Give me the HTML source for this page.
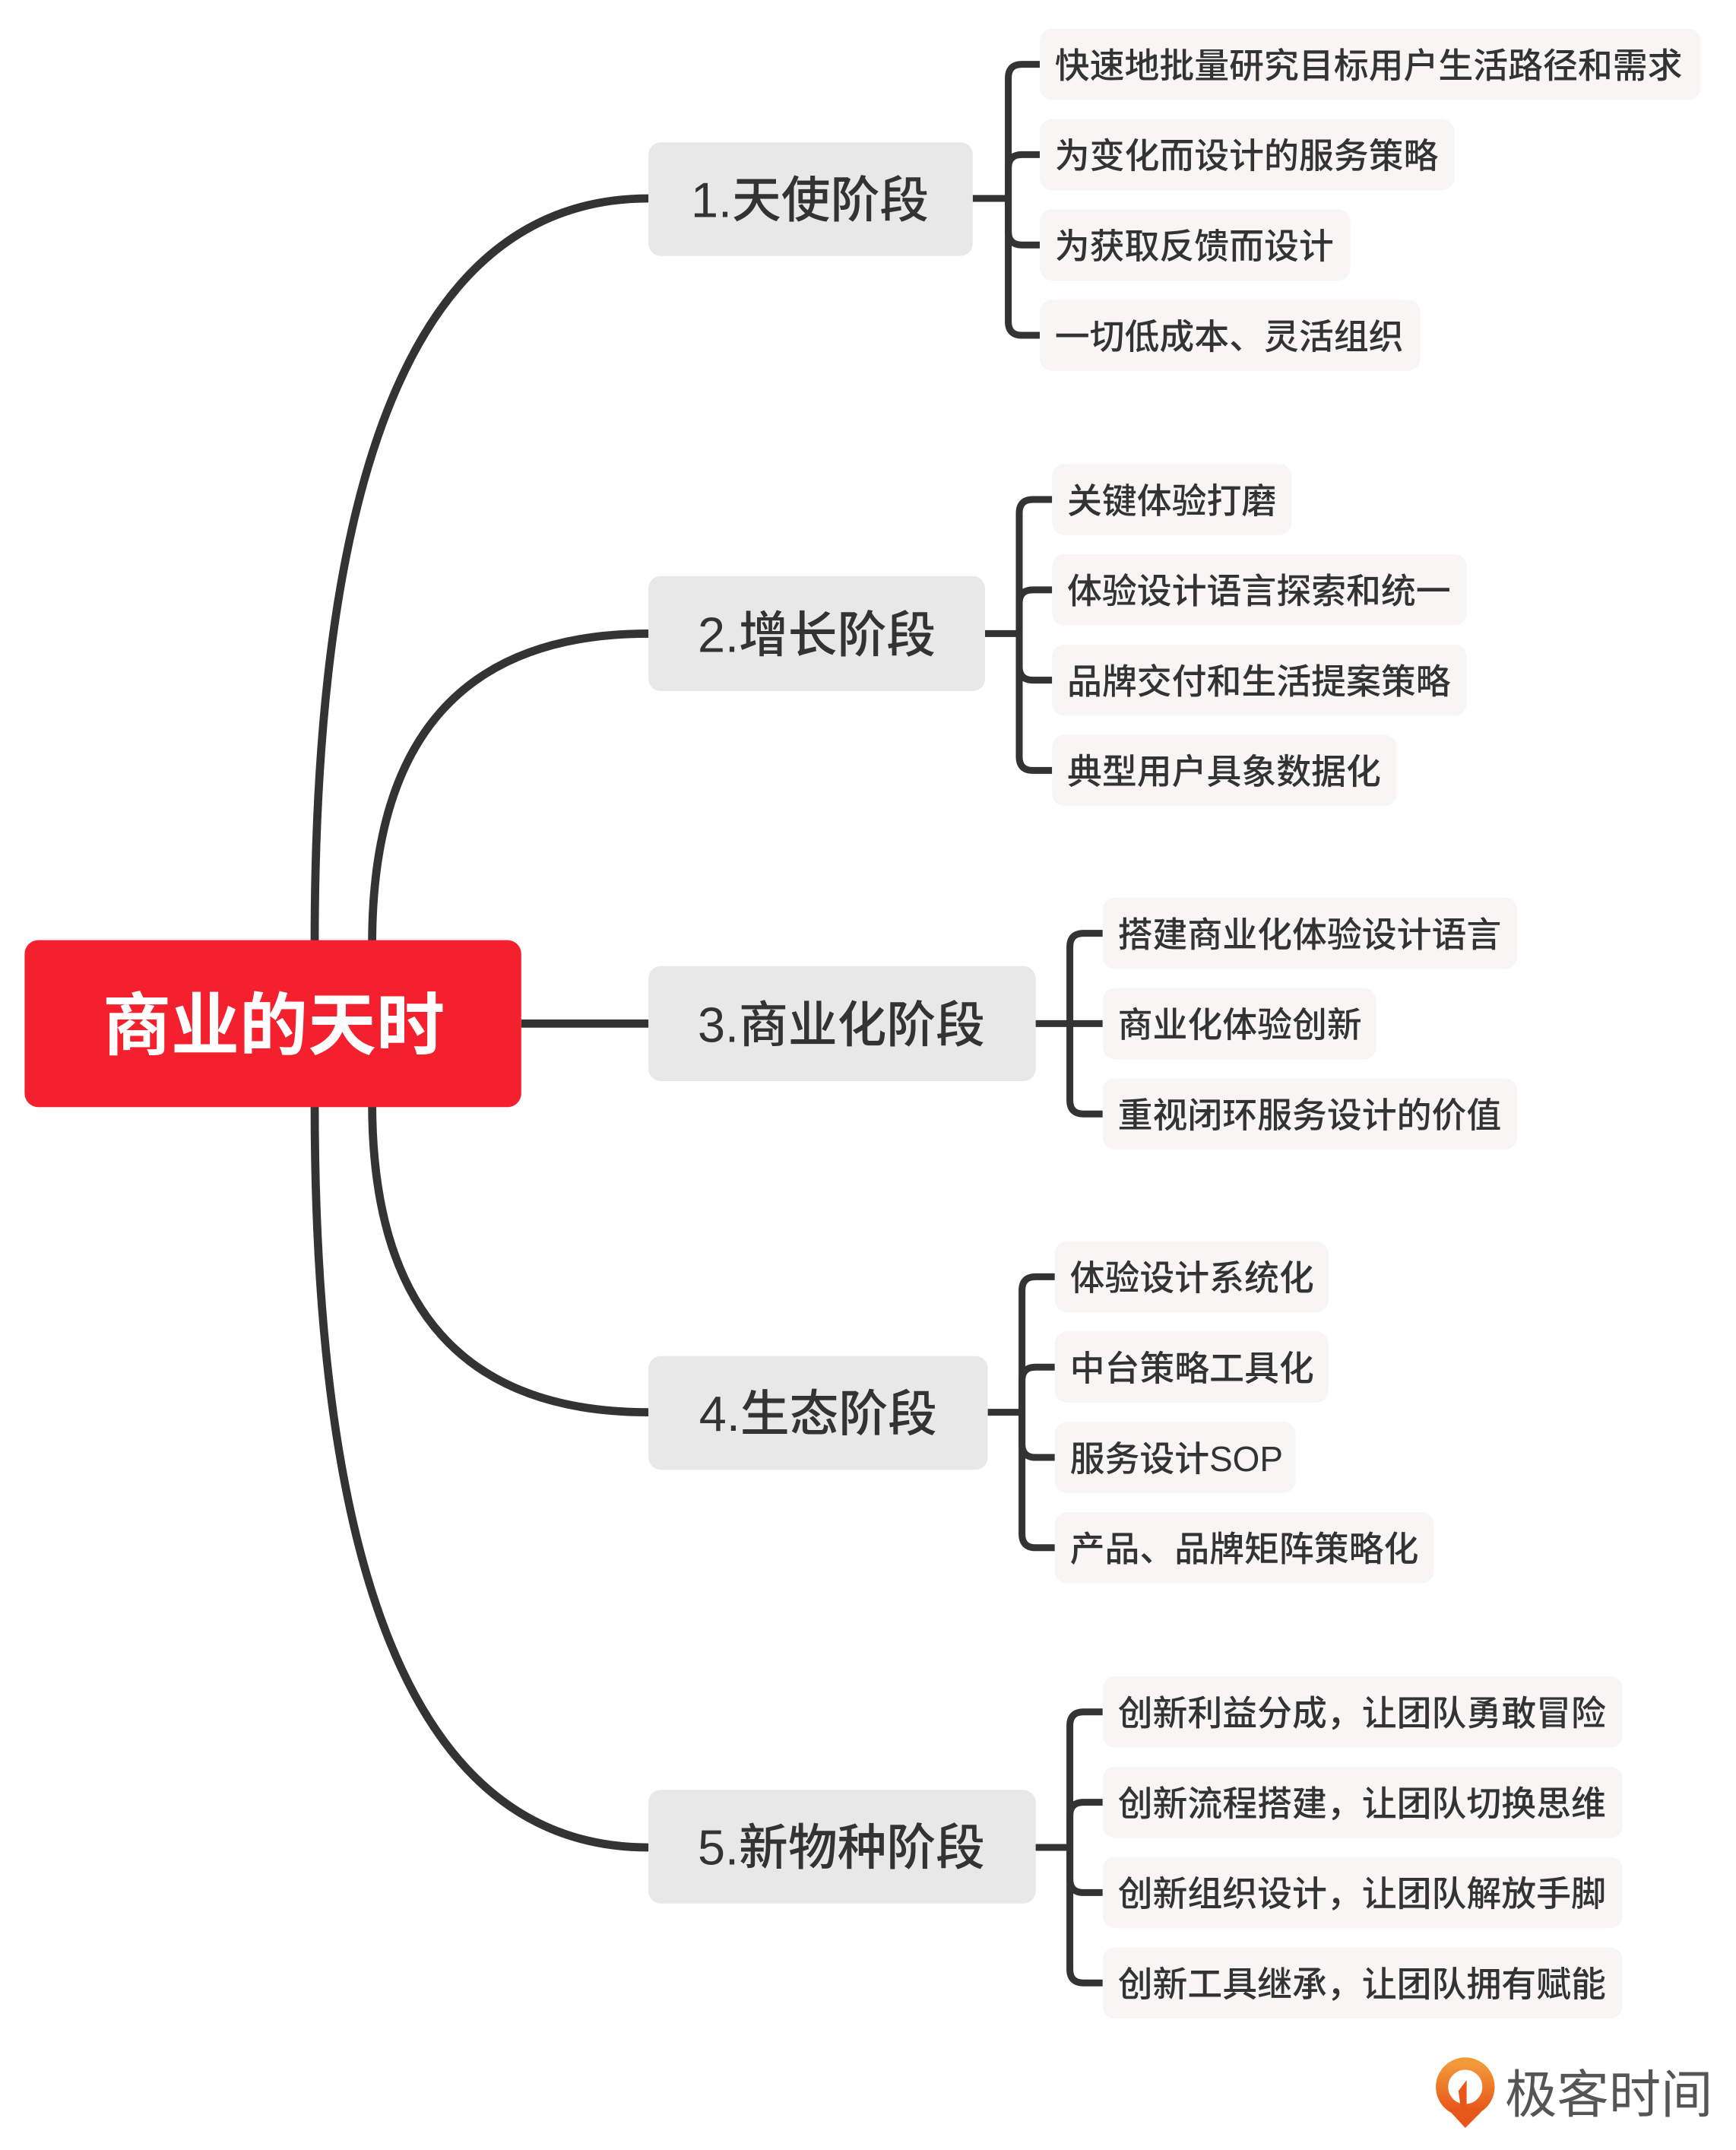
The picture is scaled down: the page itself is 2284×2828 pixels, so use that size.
<!DOCTYPE html>
<html><head><meta charset="utf-8"><style>
html,body{margin:0;padding:0;background:#fff;}
svg{display:block;}
text{font-family:"Liberation Sans","Noto Sans CJK SC",sans-serif;}
</style></head><body>
<svg width="2284" height="2828" viewBox="0 0 1268.9 1571.1" xmlns="http://www.w3.org/2000/svg">
<rect width="1268.9" height="1571.1" fill="#fff"/>
<g fill="none" stroke="#333" stroke-width="6" stroke-linecap="butt">
<path d="M230 690 Q230 145 474 145"/>
<path d="M272 690 Q272 463 474 463"/>
<path d="M381 748 H474"/>
<path d="M272 806 Q272 1032 474 1032"/>
<path d="M230 806 Q230 1350 474 1350"/>
</g>
<g fill="none" stroke="#333" stroke-width="5">
<path d="M711 145 H737"/>
<path d="M737 145 V57 Q737 47 747 47 H760"/><path d="M737 145 V123 Q737 113 747 113 H760"/>
<path d="M737 145 V169 Q737 179 747 179 H760"/><path d="M737 145 V235 Q737 245 747 245 H760"/>
<path d="M720 463 H745"/>
<path d="M745 463 V375 Q745 365 755 365 H769"/><path d="M745 463 V441 Q745 431 755 431 H769"/>
<path d="M745 463 V487 Q745 497 755 497 H769"/><path d="M745 463 V553 Q745 563 755 563 H769"/>
<path d="M757 748 H806"/>
<path d="M782 748 V692 Q782 682 792 682 H806"/><path d="M782 748 V804 Q782 814 792 814 H806"/>
<path d="M722 1032 H747"/>
<path d="M747 1032 V943 Q747 933 757 933 H771"/><path d="M747 1032 V1009 Q747 999 757 999 H771"/>
<path d="M747 1032 V1055 Q747 1065 757 1065 H771"/><path d="M747 1032 V1121 Q747 1131 757 1131 H771"/>
<path d="M757 1350 H782"/>
<path d="M782 1350 V1261 Q782 1251 792 1251 H806"/><path d="M782 1350 V1327 Q782 1317 792 1317 H806"/>
<path d="M782 1350 V1373 Q782 1383 792 1383 H806"/><path d="M782 1350 V1439 Q782 1449 792 1449 H806"/>
</g>
<rect x="18" y="687" width="363" height="122" rx="10" fill="#F5202E"/>
<text x="200" y="750" text-anchor="middle" dominant-baseline="central" font-size="50" font-weight="bold" fill="#fff">商业的天时</text>
<g fill="#E8E8E8">
<rect x="474" y="104" width="237" height="83" rx="9"/>
<rect x="474" y="421" width="246" height="84" rx="9"/>
<rect x="474" y="706" width="283" height="84" rx="9"/>
<rect x="474" y="991" width="248" height="83" rx="9"/>
<rect x="474" y="1308" width="283" height="83" rx="9"/>
</g>
<g font-size="36" fill="#333" text-anchor="middle" dominant-baseline="central" font-weight="500">
<text x="592" y="146">1.天使阶段</text>
<text x="597" y="464">2.增长阶段</text>
<text x="615" y="749">3.商业化阶段</text>
<text x="598" y="1033">4.生态阶段</text>
<text x="615" y="1350">5.新物种阶段</text>
</g>
<g fill="#F8F5F5">
<rect x="760" y="21" width="483" height="52" rx="9"/>
<rect x="760" y="87" width="303" height="52" rx="9"/>
<rect x="760" y="153" width="227" height="52" rx="9"/>
<rect x="760" y="219" width="278" height="52" rx="9"/>
<rect x="769" y="339" width="175" height="52" rx="9"/>
<rect x="769" y="405" width="303" height="52" rx="9"/>
<rect x="769" y="471" width="303" height="52" rx="9"/>
<rect x="769" y="537" width="252" height="52" rx="9"/>
<rect x="806" y="656" width="303" height="52" rx="9"/>
<rect x="806" y="722" width="200" height="52" rx="9"/>
<rect x="806" y="788" width="303" height="52" rx="9"/>
<rect x="771" y="907" width="200" height="52" rx="9"/>
<rect x="771" y="973" width="200" height="52" rx="9"/>
<rect x="771" y="1039" width="176" height="52" rx="9"/>
<rect x="771" y="1105" width="277" height="52" rx="9"/>
<rect x="806" y="1225" width="380" height="52" rx="9"/>
<rect x="806" y="1291" width="380" height="52" rx="9"/>
<rect x="806" y="1357" width="380" height="52" rx="9"/>
<rect x="806" y="1423" width="380" height="52" rx="9"/>
</g>
<g font-size="25.5" fill="#333" dominant-baseline="central" font-weight="500">
<text x="771" y="48">快速地批量研究目标用户生活路径和需求</text>
<text x="771" y="114">为变化而设计的服务策略</text>
<text x="771" y="180">为获取反馈而设计</text>
<text x="771" y="246">一切低成本、灵活组织</text>
<text x="780" y="366">关键体验打磨</text>
<text x="780" y="432">体验设计语言探索和统一</text>
<text x="780" y="498">品牌交付和生活提案策略</text>
<text x="780" y="564">典型用户具象数据化</text>
<text x="817" y="683">搭建商业化体验设计语言</text>
<text x="817" y="749">商业化体验创新</text>
<text x="817" y="815">重视闭环服务设计的价值</text>
<text x="782" y="934">体验设计系统化</text>
<text x="782" y="1000">中台策略工具化</text>
<text x="782" y="1066">服务设计SOP</text>
<text x="782" y="1132">产品、品牌矩阵策略化</text>
<text x="817" y="1252">创新利益分成，让团队勇敢冒险</text>
<text x="817" y="1318">创新流程搭建，让团队切换思维</text>
<text x="817" y="1384">创新组织设计，让团队解放手脚</text>
<text x="817" y="1450">创新工具继承，让团队拥有赋能</text>
</g>
<defs><linearGradient id="og" x1="0" y1="0" x2="0" y2="1"><stop offset="0" stop-color="#F29A3A"/><stop offset="1" stop-color="#E8571A"/></linearGradient></defs>
<circle cx="1071" cy="1525" r="17" fill="none" stroke="url(#og)" stroke-width="9"/>
<path d="M1060 1543 Q1071 1549 1083 1543 L1071 1555 Z" fill="#E8571A"/>
<path d="M1066 1528 L1072 1520 L1072 1542 L1068 1542 Z" fill="#E8571A"/>
<text x="1100" y="1531" font-size="38" fill="#555" dominant-baseline="central">极客时间</text>
</svg>
</body></html>
